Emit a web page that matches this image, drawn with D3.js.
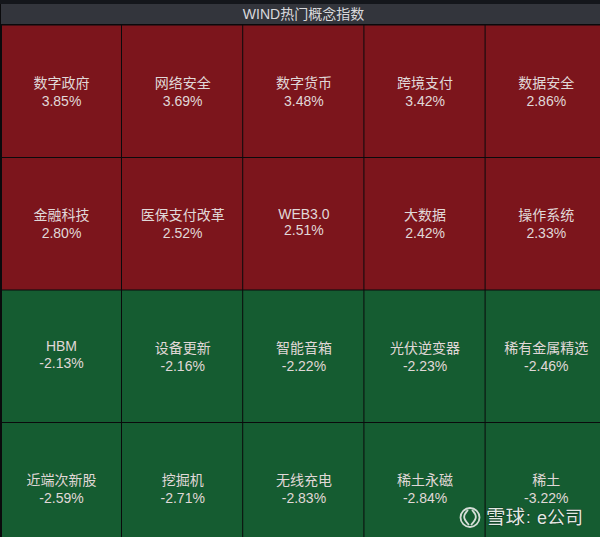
<!DOCTYPE html>
<html><head><meta charset="utf-8">
<style>html,body{margin:0;padding:0;background:#0b0c0f;overflow:hidden}svg{display:block}</style>
<script src="https://cdn.jsdelivr.net/npm/d3@7/dist/d3.min.js"></script>
</head><body><svg id="c" width="600" height="537"></svg>
<script>
const chartTitle = "WIND热门概念指数";
const names = ["数字政府","网络安全","数字货币","跨境支付","数据安全","金融科技","医保支付改革","WEB3.0","大数据","操作系统","HBM","设备更新","智能音箱","光伏逆变器","稀有金属精选","近端次新股","挖掘机","无线充电","稀土永磁","稀土"];
const changes = [3.85,3.69,3.48,3.42,2.86,2.80,2.52,2.51,2.42,2.33,-2.13,-2.16,-2.22,-2.23,-2.46,-2.59,-2.71,-2.83,-2.84,-3.22];
const columnIndex = [0,1,2,3,4];
const rowIndex = [0,1,2,3];
const upColor = "#7c151c", downColor = "#155c31";
const font = "'Helvetica Neue','Liberation Sans','Noto Sans CJK SC',sans-serif";

const svg = d3.select("#c");
const W = 600, H = 537;
svg.append("rect").attr("width",W).attr("height",H).attr("fill","#0a0a0c");
svg.append("rect").attr("width",W).attr("height",4).attr("fill","#14161b");
svg.append("rect").attr("x",1).attr("y",4).attr("width",W-1).attr("height",20).attr("fill","#33353c");
svg.append("text").attr("x",303.5).attr("y",19).attr("text-anchor","middle")
  .attr("font-family",font).attr("font-size",14).attr("fill","#d9d9dc").text(chartTitle);

const x = d3.scaleBand().domain(columnIndex).range([0.8,606.8]).paddingInner(0);
const y = d3.scaleBand().domain(rowIndex).range([25.5,555.5]).paddingInner(0);
const isLatin = s => /^[A-Za-z0-9.]+$/.test(s);
const cells = svg.selectAll("g.cell").data(names.map((n,i)=>({n,v:changes[i],c:i%5,r:Math.floor(i/5)})))
  .enter().append("g").attr("class","cell")
  .attr("transform",d=>`translate(${x(d.c)},${y(d.r)})`);
cells.append("rect").attr("width",x.bandwidth()-1).attr("height",y.bandwidth()-1)
  .attr("fill",d=>d.v>=0?upColor:downColor);
const cx = 60.7;
cells.append("text").attr("x",cx).attr("y",d=>isLatin(d.n)?60.5:62).attr("text-anchor","middle")
  .attr("font-family",font).attr("font-size",14).attr("fill","#e0d8d8").text(d=>d.n);
cells.append("text").attr("x",cx).attr("y",d=>isLatin(d.n)?77:80).attr("text-anchor","middle")
  .attr("font-family",font).attr("font-size",14).attr("fill","#e0d8d8")
  .text(d=>d3.format(".2f")(d.v).replace("\u2212","-")+"%");
svg.append("rect").attr("x",0).attr("y",24).attr("width",2).attr("height",H-24).attr("fill","#0a0a0c");

// watermark
const wm = svg.append("g");
const lg = d3.line().curve(d3.curveBasis);
wm.append("circle").attr("cx",470).attr("cy",517.5).attr("r",9.5).attr("fill","none").attr("stroke","#d4ddd6").attr("stroke-width",1.8);
wm.append("path").attr("d",lg([[468,510],[462,517],[469,525]])).attr("fill","none").attr("stroke","#d4ddd6").attr("stroke-width",1.8);
wm.append("path").attr("d",lg([[472,510],[478,517],[471,525]])).attr("fill","none").attr("stroke","#d4ddd6").attr("stroke-width",1.8);
const wmStyle = "paint-order:stroke;stroke:#0d3a1f;stroke-width:1px";
wm.append("text").attr("x",486).attr("y",524).attr("font-family",font).attr("font-size",19.5).attr("fill","#e2e8e3").attr("style",wmStyle).text("雪球");
wm.append("text").attr("x",526).attr("y",523).attr("font-family",font).attr("font-size",17).attr("fill","#e2e8e3").attr("style",wmStyle).text(":");
wm.append("text").attr("x",537).attr("y",524).attr("font-family",font).attr("font-size",18).attr("fill","#e2e8e3").attr("style",wmStyle).text("e公司");
</script></body></html>
